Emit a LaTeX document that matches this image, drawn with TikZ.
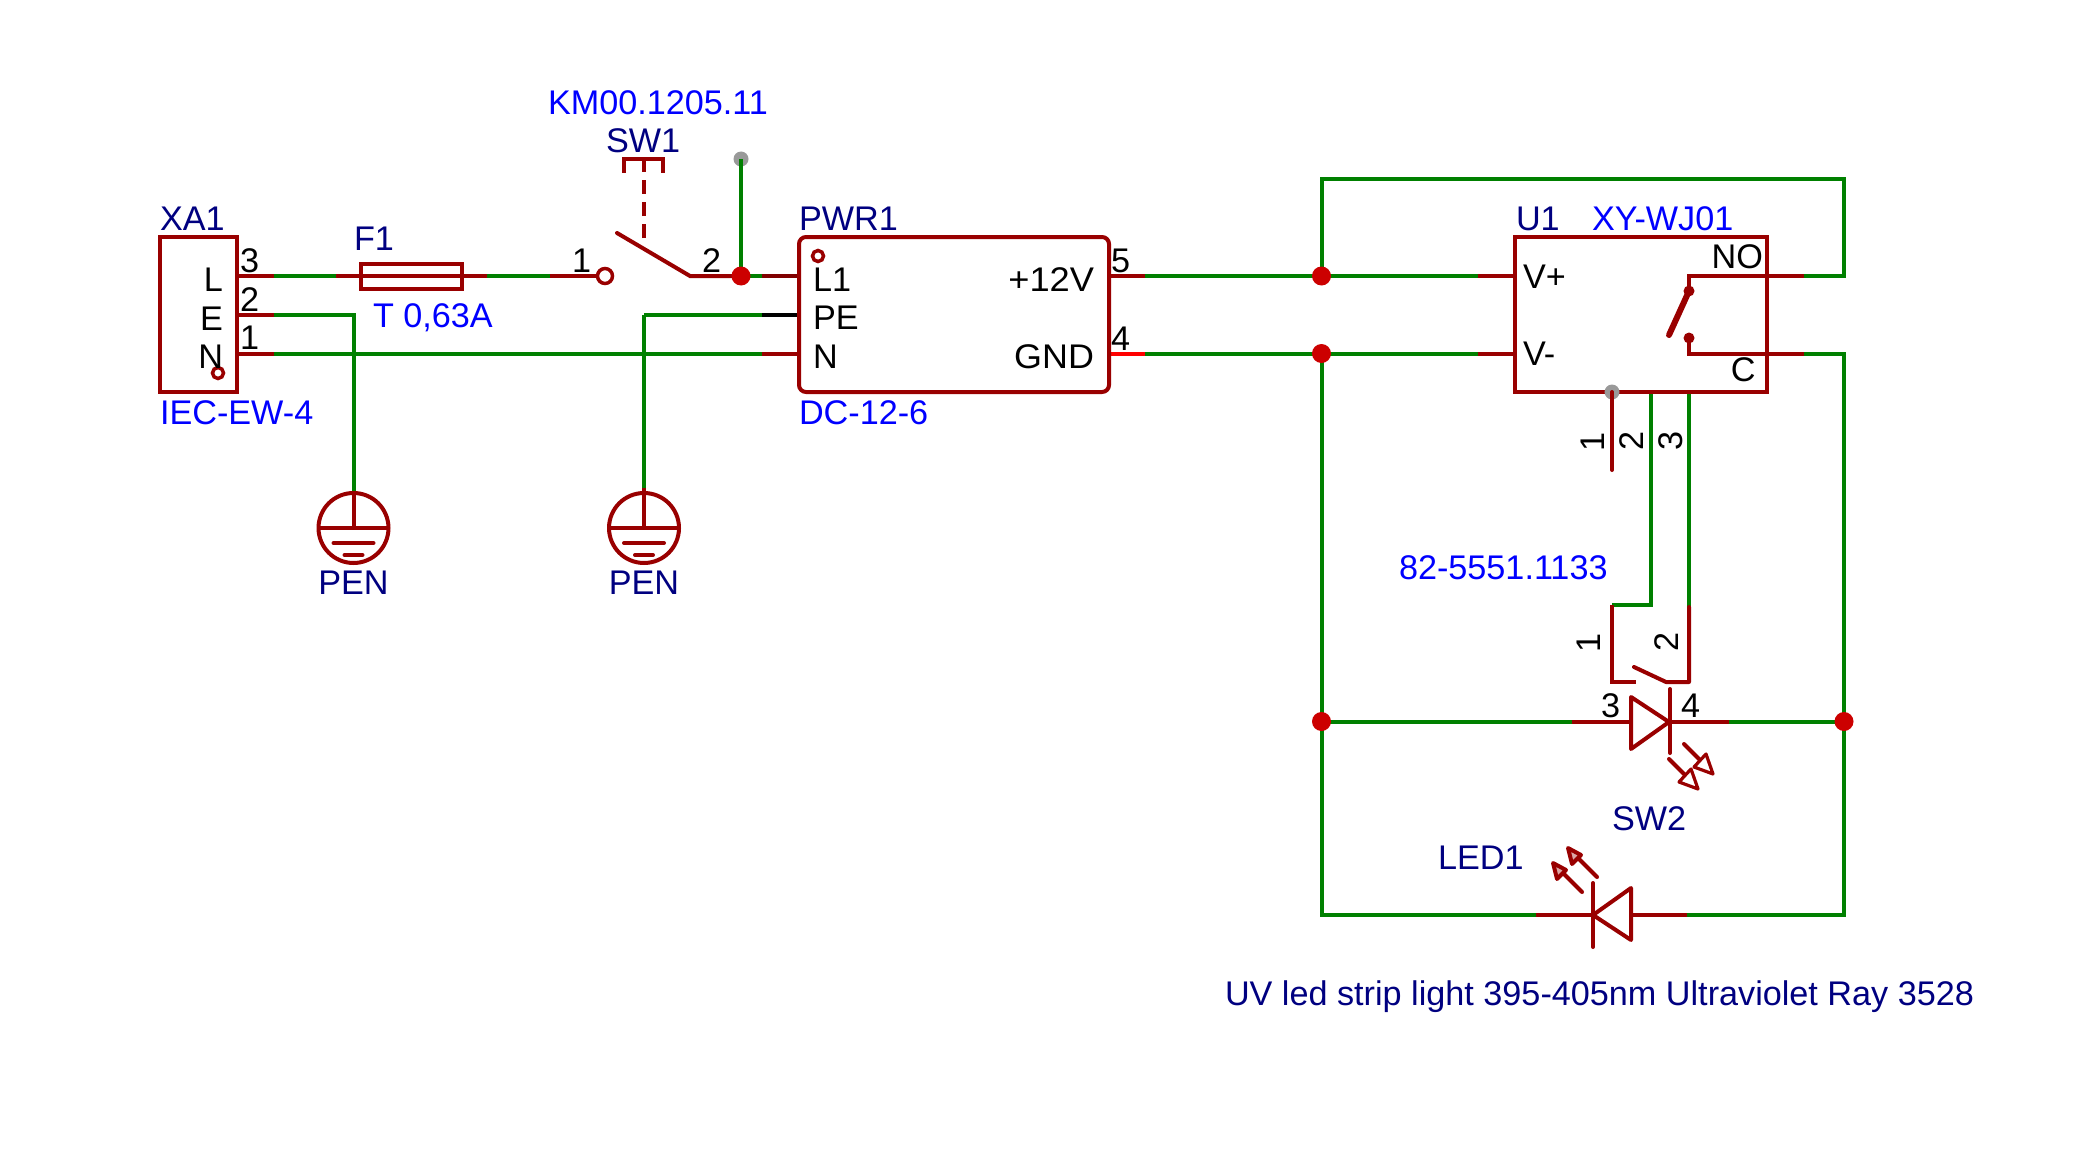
\documentclass[tikz,border=0pt]{standalone}
\usepackage{fontspec}
\setmainfont{Liberation Sans}
\definecolor{sym}{HTML}{990000}
\definecolor{pindark}{HTML}{800000}
\definecolor{wire}{HTML}{008000}
\definecolor{junc}{HTML}{CC0000}
\definecolor{refc}{HTML}{000080}
\definecolor{valc}{HTML}{0000FF}
\definecolor{hole}{HTML}{999999}
\tikzset{
  txt/.style={inner sep=0pt,outer sep=0pt,anchor=base west,font=\fontsize{34.2}{36}\selectfont},
  pinname/.style={txt,text=black},
  pinnameR/.style={pinname,anchor=base east},
  refd/.style={txt,text=refc},
  val/.style={txt,text=valc},
  rotnum/.style={txt,text=black,anchor=center,rotate=90},
  wr/.style={draw=wire,line width=4pt,line join=miter},
  pn/.style={draw=sym,line width=4pt},
  bx/.style={draw=sym,line width=4pt,line join=miter,outer sep=0pt},
  dot/.style={circle,fill=junc,draw=none,minimum size=19pt,inner sep=0pt},
  gdot/.style={circle,fill=hole,draw=none,minimum size=15pt,inner sep=0pt},
  ring/.style={circle,draw=sym,fill=white,line width=3.5pt,inner sep=0pt},
  ledarrow/.style={draw=sym,line width=4pt,line cap=round,line join=round},
  ledhead/.style={draw=sym,line width=3.2pt,line cap=round,line join=round,fill=white},
}
\begin{document}
\begin{tikzpicture}[x=1pt,y=-1pt]
\useasboundingbox (0,0) rectangle (2100,1169);

% coordinates for wire ends
\foreach \n/\x/\y in {
  xL/237/276, xE/237/314.5, xN/237/353.5,
  xLs/274/276, xEs/274/314.5, xNs/274/353.5,
  fa/336/276, fb/487/276, sa/550/276,
  swp/690/276, swa/617/233, gnd1c/353.5/314.5, gnd2c/644/314.5,
  pL/799/276, pE/799/314.5, pN/799/353.5,
  pLs/762/276, pEs/762/314.5, pNs/762/353.5,
  p5/1109/276, p4/1109/353.5, p5s/1145/276, p4s/1145/353.5,
  uP/1515/276, uM/1515/353.5, uPs/1478/276, uMs/1478/353.5,
  uNO/1767/276, uC/1767/353.5, uNOs/1804/276, uCs/1804/353.5,
  ne/1844/276, nt/1844/179, nw/1321.5/179,
  ce/1844/353.5, bl/1321.5/915, br/1844/915,
  ldL/1536/915, ldR/1687/915, sdL/1572/721.5, sdR/1729/721.5,
  t2/1651/392, t3/1689/392, t2e/1651/605, t2f/1612/605, t3e/1689/607,
  t1/1612/392, t1e/1612/470, kL/1612/682, kM/1636/682, kA/1634/667, kB/1666/682, kR/1689/682,
  pen1/353.5/492, pen2/644/488, dotTop/741/159}
  {\coordinate (\n) at (\x,\y);}

% green wires
\draw[wr] (xLs) -- (fa);
\draw[wr] (fb) -- (sa);
\draw[wr] (xEs) -- (gnd1c) -- (pen1);
\draw[wr] (xNs) -- (pNs);
\draw[wr] (gnd2c) -- (pen2);
\draw[wr] (gnd2c) -- (pEs);
\draw[wr] (741,276) -- (dotTop);
\draw[wr] (741,276) -- (pLs);
\draw[wr] (p5s) -- (uPs);
\draw[wr] (p4s) -- (uMs);
\draw[wr] (1321.5,276) -- (nw) -- (nt) -- (ne) -- (uNOs);
\draw[wr] (uCs) -- (ce) -- (br) -- (ldR);
\draw[wr] (1321.5,353.5) -- (bl) -- (ldL);
\draw[wr] (1321.5,721.5) -- (sdL);
\draw[wr] (sdR) -- (1844,721.5);
\draw[wr] (t2) -- (t2e) -- (t2f);
\draw[wr] (t3) -- (t3e);

% XA1
\node[bx,rectangle,minimum width=77pt,minimum height=155pt,inner sep=0pt,anchor=north west] (XA) at (160,237) {};
\draw[pn] (xL) -- (xLs);
\draw[pn] (xE) -- (xEs);
\draw[pn] (xN) -- (xNs);
\node[ring,minimum size=11pt] (xaring) at (218,373) {};
\node[pinnameR] (xaL) at (223,291) {L};
\node[pinnameR] (xaE) at (223,330) {E};
\node[pinnameR] (xaN) at (223,368) {N};
\node[pinname] (xa3) at (240,272) {3};
\node[pinname] (xa2) at (240,311) {2};
\node[pinname] (xa1) at (240,349) {1};
\node[refd] (xaref) at (160,230) {XA1};
\node[val] (xaval) at (160,424) {IEC-EW-4};

% F1
\node[bx,rectangle,minimum width=101pt,minimum height=25pt,inner sep=0pt,anchor=north west] (fuse) at (361,263.5) {};
\draw[pn] (fa) -- (fb);
\node[refd] (f1) at (354,250) {F1};
\node[val] (f1v) at (373,327.5) {T 0,63A};

% SW1
\node[ring,minimum size=15pt] (swring) at (605,276) {};
\draw[pn] (sa) -- (swring);
\draw[pn,line cap=round] (swa) -- (swp) -- (741,276);
\draw[pn,dash pattern=on 14pt off 8pt] (644,238) -- (644,159);
\draw[pn,line join=miter] (624,173) -- (624,159) -- (663,159) -- (663,173);
\node[pinname] (sw1n) at (572,272) {1};
\node[pinname] (sw2n) at (702,272) {2};
\node[refd] (swref) at (606,153) {SW1};
\node[val] (swval) at (548,115) {KM00.1205.11};
\node[gdot] (topdot) at (dotTop) {};
\draw[wr] (741,276) -- (topdot.center);
\node[dot] (j0) at (741,276) {};

% PEN symbols
\foreach \nm/\cx in {a/353.5,b/644}{
  \node[circle,draw=sym,line width=4pt,minimum size=70pt,inner sep=0pt,outer sep=0pt] (pen\nm) at (\cx,528) {};
  \draw[pn] (\cx,492) -- (\cx,528);
  \draw[pn] (\cx-34,528) -- (\cx+34,528);
  \draw[draw=sym,line width=4pt,line cap=round] (\cx-20,543) -- (\cx+20,543);
  \draw[draw=sym,line width=4pt,line cap=round] (\cx-9,555) -- (\cx+9,555);
  \node[refd,anchor=base] (pent\nm) at (\cx,594) {PEN};
}
\draw[pn] (pen2) -- (644,492);

% PWR1
\draw[draw=pindark,line width=4pt] (pLs) -- (pL);
\draw[draw=black,line width=4pt] (pEs) -- (pE);
\draw[pn] (pNs) -- (pN);
\draw[pn] (p5) -- (p5s);
\draw[draw=red,line width=4pt] (p4) -- (p4s);
\node[bx,rectangle,rounded corners=7pt,fill=white,minimum width=310pt,minimum height=155pt,inner sep=0pt,anchor=north west] (PWR) at (799,237) {};
\node[ring,minimum size=11pt] (pring) at (818,256) {};
\node[pinname] (pl1) at (813,291) {L1};
\node[pinname] (ppe) at (813,329) {PE};
\node[pinname] (ppn) at (813,368) {N};
\node[pinnameR,xscale=1.06] (p12) at (1094,291) {+12V};
\node[pinnameR,xscale=1.05] (pg) at (1094,368) {GND};
\node[pinname] (p5n) at (1111,272) {5};
\node[pinname] (p4n) at (1111,350) {4};
\node[refd] (pwrref) at (799,230) {PWR1};
\node[val] (pwrval) at (799,424) {DC-12-6};

% U1
\draw[pn] (uPs) -- (uP);
\draw[pn] (uMs) -- (uM);
\node[bx,rectangle,minimum width=252pt,minimum height=155pt,inner sep=0pt,anchor=north west] (U1) at (1515,237) {};
\draw[pn] (1689,291) -- (1689,276) -- (uNOs);
\draw[pn] (1689,338) -- (1689,353.5) -- (uCs);
\fill[sym] (1689,291) circle (5.5pt) (1689,338) circle (5.5pt);
\draw[draw=sym,line width=6pt,line cap=round] (1689,291) -- (1669,335);
\node[gdot] (udot) at (t1) {};
\draw[pn,line cap=round] (t1) -- (t1e);
\node[rotnum] (u1n) at (1593,442) {1};
\node[rotnum] (u2n) at (1632,441) {2};
\node[rotnum] (u3n) at (1671,441) {3};
\node[pinname] (uvp) at (1523,288) {V+};
\node[pinname] (uvm) at (1523,365) {V-};
\node[pinnameR] (uno) at (1763,268) {NO};
\node[pinnameR] (uc) at (1755.5,381) {C};
\node[refd] (uref) at (1516,230) {U1};
\node[val] (uval) at (1592,230) {XY-WJ01};
\node[val] (conn) at (1399,579) {82-5551.1133};

% SW2 key part
\draw[pn,line join=miter] (t2f) -- (kL) -- (kM);
\draw[pn,line cap=round,line join=round] (kA) -- (kB) -- (kR) -- (t3e);
\node[rotnum] (k1) at (1589,643) {1};
\node[rotnum] (k2) at (1667,642) {2};

% SW2 LED
\draw[pn] (sdL) -- (sdR);
\draw[pn,line join=round,fill=white] (1631,697) -- (1669,722) -- (1631,749) -- cycle;
\draw[pn,line cap=round] (1670,689) -- (1670,753);
\draw[ledarrow] (1684,744) -- (1702,762);
\draw[ledhead] (1694,767) -- (1713,774) -- (1706,754) -- cycle;
\draw[ledarrow] (1669,759) -- (1687,777);
\draw[ledhead] (1679,782) -- (1698,789) -- (1691,769) -- cycle;
\node[pinname] (s3) at (1601,717) {3};
\node[pinname] (s4) at (1681,717) {4};
\node[refd] (sw2ref) at (1612,830) {SW2};

% LED1
\draw[pn] (ldL) -- (ldR);
\draw[pn,line join=round,fill=white] (1631,888) -- (1593,915) -- (1631,940) -- cycle;
\draw[pn,line cap=round] (1593,883) -- (1593,947);
\draw[ledarrow] (1582,892) -- (1561,871);
\draw[ledarrow,fill=sym!35!white] (1557,879) -- (1553,863) -- (1566,870) -- cycle;
\draw[ledarrow] (1597,877) -- (1576,856);
\draw[ledarrow,fill=sym!35!white] (1572,864) -- (1568,848) -- (1581,855) -- cycle;
\node[refd] (ledref) at (1438,869) {LED1};
\node[refd] (ledval) at (1225,1005) {UV led strip light 395-405nm Ultraviolet Ray 3528};

% junctions
\node[dot] (j1) at (1321.5,276) {};
\node[dot] (j2) at (1321.5,353.5) {};
\node[dot] (j3) at (1321.5,721.5) {};
\node[dot] (j4) at (1844,721.5) {};
\end{tikzpicture}
\end{document}
